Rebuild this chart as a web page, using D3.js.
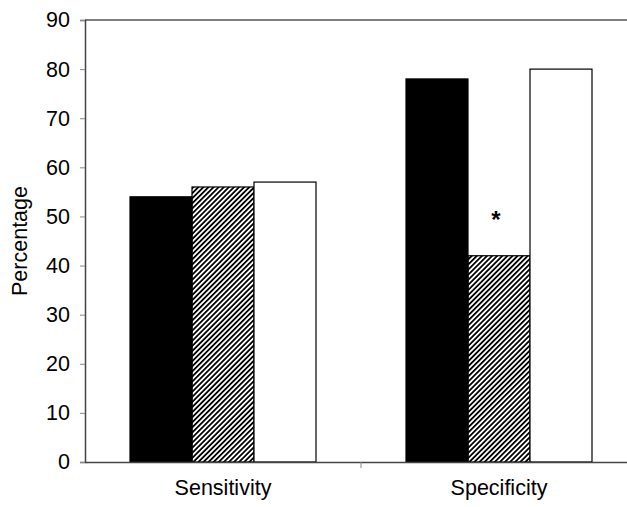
<!DOCTYPE html>
<html>
<head>
<meta charset="utf-8">
<script src="https://cdn.jsdelivr.net/npm/d3@7"></script>
<style>
  body { margin: 0; background: #fff; }
  text { font-family: Arial, "Liberation Sans", sans-serif; }
</style>
</head>
<body>
<div id="chart"></div>
<script>
// chart data
const categories = ['Sensitivity', 'Specificity'];
const groups = ['a', 'b', 'c'];
const valuesA = [54, 78];
const valuesB = [56, 42];
const valuesC = [57, 80];
const yTicks = [0, 10, 20, 30, 40, 50, 60, 70, 80, 90];
const starred = [{ category: 'Specificity', group: 'b' }];

const width = 627, height = 507;
const margin = { top: 20, right: -10, bottom: 45, left: 85 };
const innerW = width - margin.left - margin.right;
const innerH = height - margin.top - margin.bottom;
const fontSize = 21.5;

const svg = d3.select('#chart').append('svg')
  .attr('width', width)
  .attr('height', height);

// hatch fill for the middle series
const defs = svg.append('defs');
defs.append('pattern')
  .attr('id', 'hatch')
  .attr('patternUnits', 'userSpaceOnUse')
  .attr('width', 3.6)
  .attr('height', 3.6)
  .attr('patternTransform', 'rotate(45)')
  .append('rect')
    .attr('width', 1.8)
    .attr('height', 3.6)
    .attr('fill', '#000');

const g = svg.append('g')
  .attr('transform', `translate(${margin.left},${margin.top})`);

const x = d3.scaleBand().domain(categories).range([0, innerW]);
const xInner = d3.scaleBand().domain(groups).range([0, 186]);
const y = d3.scaleLinear().domain([0, 90]).range([innerH, 0]);

const rows = categories.map((c, i) => ({
  category: c,
  bars: [
    { group: 'a', value: valuesA[i] },
    { group: 'b', value: valuesB[i] },
    { group: 'c', value: valuesC[i] }
  ]
}));
const fills = { a: '#000', b: 'url(#hatch)', c: '#fff' };

const groupOffset = (x.bandwidth() - 186) / 2;

g.selectAll('.cat')
  .data(rows)
  .join('g')
    .attr('class', 'cat')
    .attr('transform', d => `translate(${x(d.category) + groupOffset},0)`)
  .selectAll('rect')
  .data(d => d.bars)
  .join('rect')
    .attr('x', d => xInner(d.group))
    .attr('y', d => y(d.value))
    .attr('width', xInner.bandwidth())
    .attr('height', d => innerH - y(d.value))
    .attr('fill', d => fills[d.group])
    .attr('stroke', '#000')
    .attr('stroke-width', 1.2);

// significance marker
g.selectAll('.star')
  .data(starred)
  .join('text')
    .attr('class', 'star')
    .attr('x', d => x(d.category) + groupOffset + xInner(d.group) + xInner.bandwidth() / 2 - 3)
    .attr('y', () => y(42) - 28)
    .attr('text-anchor', 'middle')
    .attr('font-size', 24)
    .attr('font-weight', 'bold')
    .text('*');

// frame top line
g.append('line')
  .attr('x1', 0).attr('x2', innerW)
  .attr('y1', 0).attr('y2', 0)
  .attr('stroke', '#000')
  .attr('stroke-width', 1.2);

// y axis
const yAxis = g.append('g')
  .call(d3.axisLeft(y).tickValues(yTicks).tickSize(5).tickPadding(10));
yAxis.select('.domain').attr('stroke', '#444').attr('stroke-width', 1.5);
yAxis.selectAll('.tick line').attr('stroke', '#888');
yAxis.selectAll('text').attr('font-size', fontSize).attr('fill', '#000');

// x axis
const xAxis = g.append('g')
  .attr('transform', `translate(0,${innerH})`)
  .call(d3.axisBottom(x).tickSize(0).tickPadding(18));
xAxis.select('.domain').attr('stroke', '#444').attr('stroke-width', 1.5);
xAxis.selectAll('text').attr('font-size', fontSize).attr('fill', '#000');

// divider tick between categories
g.append('line')
  .attr('x1', x('Specificity')).attr('x2', x('Specificity'))
  .attr('y1', innerH).attr('y2', innerH + 6)
  .attr('stroke', '#888');

// y label
svg.append('text')
  .attr('transform', `translate(27,${margin.top + innerH / 2}) rotate(-90)`)
  .attr('text-anchor', 'middle')
  .attr('font-size', fontSize)
  .text('Percentage');
</script>
</body>
</html>
